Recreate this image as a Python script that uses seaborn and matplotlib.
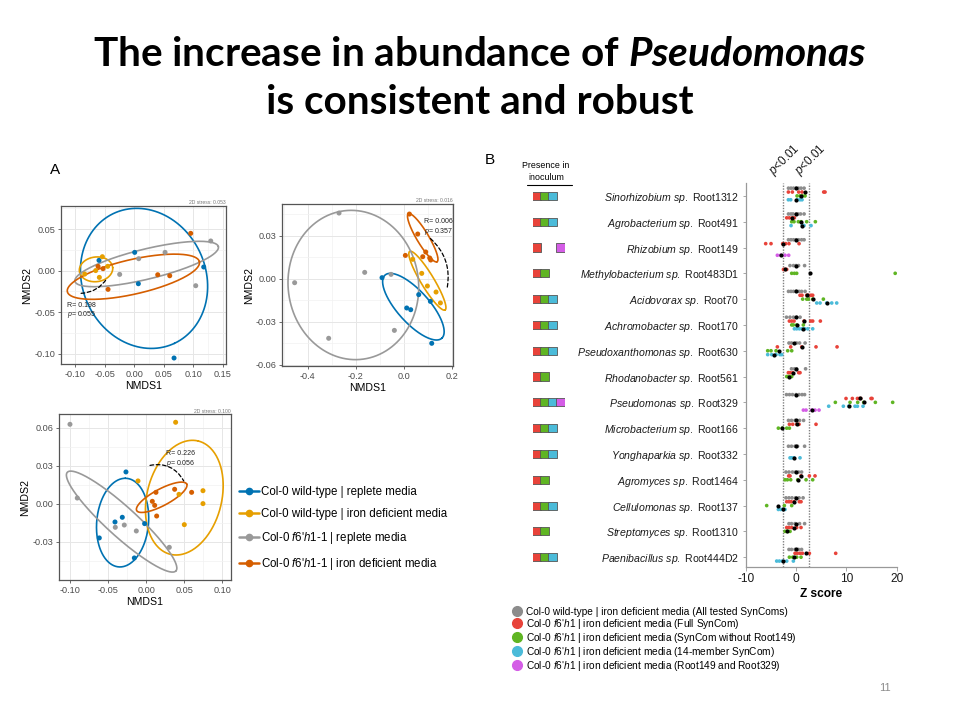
import numpy as np
import pandas as pd
import seaborn as sns
import matplotlib.pyplot as plt
from matplotlib.lines import Line2D
from matplotlib.patches import FancyArrowPatch
from matplotlib.ticker import AutoMinorLocator

sns.set_theme(style="white")
plt.rcParams["font.family"] = ["Liberation Sans", "DejaVu Sans"]
plt.rcParams["mathtext.fontset"] = "custom"
plt.rcParams["mathtext.rm"] = "Liberation Sans"
plt.rcParams["mathtext.it"] = "Liberation Sans:italic"
plt.rcParams["mathtext.bf"] = "Lato:bold:italic"
plt.rcParams["axes.unicode_minus"] = False
plt.rcParams["text.color"] = "black"
plt.rcParams["axes.labelcolor"] = "black"

# ---------------- panel A: NMDS ordinations ----------------
groups = ["wt_rep", "wt_fe", "f6_rep", "f6_fe"]
group_colors = ["#0072B2", "#E69F00", "#999999", "#D55E00"]
group_labels = [
    "Col-0 wild-type | replete media",
    "Col-0 wild-type | iron deficient media",
    "Col-0 $\\mathit{f6}$'$\\mathit{h1}$-$\\mathit{1}$ | replete media",
    "Col-0 $\\mathit{f6}$'$\\mathit{h1}$-$\\mathit{1}$ | iron deficient media",
]

# top-left ordination
tl_x = {"wt_rep": [-0.0594, 0.001, 0.0072, 0.1178, 0.0676],
        "wt_fe": [-0.0836, -0.065, -0.0537, -0.0447, -0.0588],
        "f6_rep": [-0.0244, 0.0078, 0.0524, 0.1043, 0.1297],
        "f6_fe": [-0.061, -0.0526, -0.0441, 0.040, 0.0603, 0.0958]}
tl_y = {"wt_rep": [0.0123, 0.0219, -0.0158, 0.0043, -0.1052],
        "wt_fe": [-0.0042, 0.0, 0.0167, 0.0051, -0.0082],
        "f6_rep": [-0.0046, 0.0143, 0.0219, -0.0182, 0.0356],
        "f6_fe": [0.0051, 0.0023, -0.0226, -0.0050, -0.0062, 0.0448]}
# ellipse: centre x, centre y, first axis (dx, dy), second axis (dx, dy)
tl_ell = {"wt_rep": (0.0168, -0.0094, 0.0513, -0.0782, 0.0946, 0.0314),
          "wt_fe": (-0.0644, 0.0015, 0.0282, 0.002, 0.0017, -0.0148),
          "f6_rep": (0.0213, 0.0079, 0.1213, 0.0209, 0.006, -0.0176),
          "f6_fe": (-0.0012, -0.0074, 0.1117, 0.0181, 0.0065, -0.0203)}
tl_arc = ((-0.0944, -0.0274), (-0.0436, -0.0066), 0.3)
tl_stat = ((-0.1141, -0.0374), "0.198", "0.055", "0.053")

# top-right ordination
tr_x = {"wt_rep": [-0.0903, 0.0625, 0.0125, 0.0292, 0.1111, 0.1167],
        "wt_fe": [0.0375, 0.075, 0.0986, 0.1347, 0.1528],
        "f6_rep": [-0.2694, -0.1625, -0.4542, -0.0528, -0.3125, -0.0389],
        "f6_fe": [0.0236, 0.0583, 0.0069, 0.0917, 0.0792, 0.1083, 0.1125]}
tr_y = {"wt_rep": [0.0007, -0.0111, -0.0204, -0.0216, -0.0158, -0.045],
        "wt_fe": [0.0135, 0.0037, -0.0051, -0.0093, -0.0169],
        "f6_rep": [0.0457, 0.0044, -0.0028, 0.003, -0.0415, -0.036],
        "f6_fe": [0.045, 0.0311, 0.0162, 0.0186, 0.0153, 0.0144, 0.013]}
tr_ell = {"wt_rep": (0.0403, -0.0195, 0.1181, -0.022, 0.0497, 0.0074),
          "wt_fe": (0.0986, -0.0014, 0.0736, -0.0204, 0.0236, 0.0023),
          "f6_rep": (-0.2097, -0.0044, 0.2708, -0.007, -0.0278, -0.0515),
          "f6_fe": (0.0792, 0.0285, 0.0597, -0.0167, 0.0214, 0.0021)}
tr_arc = ((0.1028, 0.0292), (0.1792, -0.0079), -0.3)
tr_stat = ((0.0847, 0.042), "0.006", "0.357", "0.016")

# bottom-left ordination
bl_x = {"wt_rep": [-0.0265, -0.0409, -0.0313, -0.0615, -0.002, -0.0155],
        "wt_fe": [-0.0107, 0.0387, 0.0431, 0.0501, 0.0746, 0.0746],
        "f6_rep": [-0.1, -0.0904, -0.0405, -0.0287, -0.0129, 0.0304],
        "f6_fe": [0.0129, 0.0081, 0.0112, 0.0138, 0.0374, 0.0597]}
bl_y = {"wt_rep": [0.0253, -0.0142, -0.0105, -0.0268, -0.0155, -0.0426],
        "wt_fe": [0.0182, 0.0645, 0.0076, -0.0163, 0.0105, 0.0003],
        "f6_rep": [0.0629, 0.0047, -0.0184, -0.0166, -0.0213, -0.0342],
        "f6_fe": [0.0092, 0.0021, -0.0011, -0.0095, 0.0116, 0.0092]}
bl_ell = {"wt_rep": (-0.0309, -0.0147, 0.0035, 0.035, 0.0341, 0.0),
          "wt_fe": (0.0501, 0.005, 0.0184, 0.0447, 0.0476, -0.0071),
          "f6_rep": (-0.0322, -0.0139, 0.0713, -0.0389, 0.0131, 0.0087),
          "f6_fe": (0.0204, 0.0053, 0.0328, 0.0105, 0.0052, -0.0058)}
bl_arc = ((0.0015, 0.030), (0.051, 0.0163), -0.4)
bl_stat = ((0.026, 0.0426), "0.226", "0.056", "0.100")

# ---------------- panel B: Z scores ----------------
genus = ["Sinorhizobium", "Agrobacterium", "Rhizobium", "Methylobacterium",
         "Acidovorax", "Achromobacter", "Pseudoxanthomonas", "Rhodanobacter",
         "Pseudomonas", "Microbacterium", "Yonghaparkia", "Agromyces",
         "Cellulomonas", "Streptomyces", "Paenibacillus"]
strain = ["Root1312", "Root491", "Root149", "Root483D1", "Root70", "Root170",
          "Root630", "Root561", "Root329", "Root166", "Root332", "Root1464",
          "Root137", "Root1310", "Root444D2"]
# presence in inoculum: 1 = full, 2 = without Root149, 3 = 14-member, 4 = Root149+Root329
presence = [[1, 2, 3], [1, 2, 3], [1, 4], [1, 2], [1, 2, 3], [1, 2, 3], [1, 2, 3],
            [1, 2], [1, 2, 3, 4], [1, 2, 3], [1, 2, 3], [1, 2], [1, 2, 3], [1, 2],
            [1, 2, 3]]

syn_names = ["wt_all", "f6_full", "f6_no149", "f6_14", "f6_149_329"]
syn_colors = ["#8c8c8c", "#e8433a", "#5fb523", "#4bbbd9", "#d45de6"]
syn_labels = [
    "Col-0 wild-type | iron deficient media (All tested SynComs)",
    "Col-0 $\\mathit{f6}$'$\\mathit{h1}$ | iron deficient media (Full SynCom)",
    "Col-0 $\\mathit{f6}$'$\\mathit{h1}$ | iron deficient media (SynCom without Root149)",
    "Col-0 $\\mathit{f6}$'$\\mathit{h1}$ | iron deficient media (14-member SynCom)",
    "Col-0 $\\mathit{f6}$'$\\mathit{h1}$ | iron deficient media (Root149 and Root329)",
]

z_gray = [[-1.5, -1.0, -0.5, 0.0, 0.5, 1.0, 1.6], [-1.5, -1.0, -0.6, 0.0, 0.4, 0.9, 1.6],
          [-1.5, -1.0, -0.5, 0.0, 0.5, 1.1, 1.6], [-1.2, -0.5, 0.0, 0.5, 1.7],
          [-1.5, -1.0, -0.5, 0.0, 0.6, 1.1, 1.8], [-1.9, -1.2, -0.5, 0.1, 0.8],
          [-1.4, -0.9, 0.1, 0.7, 1.8], [-0.9, -0.3, 0.1, 1.9],
          [-1.9, -1.3, -0.7, 0.0, 0.6, 1.2, 1.7], [-1.5, -0.9, -0.2, 0.7, 1.5],
          [-1.5, -0.9, -0.2, 0.3, 1.7], [-2.0, -1.4, -0.7, -0.1, 0.5, 1.1],
          [-2.0, -1.4, -0.8, -0.1, 0.6, 1.4], [-1.4, -0.9, -0.2, 0.7, 1.7],
          [-1.4, -0.9, -0.2, 0.5, 1.1]]
z_red = [[-1.52, -0.73, 0.53, 1.19, 5.5, 5.76], [-1.85, -1.32, -0.73, -0.33],
         [-6.03, -4.97, -2.65, -2.05, -1.4, 0.6], [-2.5, -2.19, -1.85],
         [0.79, 1.19, 2.12, 2.45, 2.98, 3.31], [-1.32, -0.86, -0.4, 1.59, 2.91, 3.31, 4.83],
         [-3.71, -1.06, 1.13, 3.97, 8.15], [-1.52, -1.19, -0.66, 0.53, 0.79],
         [9.93, 11.19, 12.19, 12.58, 12.85, 14.9, 15.1], [-1.32, -0.66, 0.13, 0.6, 3.97],
         [], [-1.46, -1.2, 0.99, 2.65, 3.77], [-1.85, -1.39, -0.99, -0.4, 0.66, 0.99],
         [-1.85, -1.39, -0.86, 0.13, 0.99], [-0.2, 0.26, 0.79, 1.26, 2.65, 7.88]]
z_green = [[0.2, 0.79, 1.26, 1.79], [-0.86, -0.4, 0.46, 0.99, 2.12, 3.84], [],
           [-0.86, -0.33, 0.13, 19.7], [1.32, 2.12, 2.45, 3.31, 5.43],
           [-0.86, -0.53, 0.13, 1.46], [-5.63, -4.97, -3.97, -1.66, -0.86],
           [-1.85, -1.52, -1.19, -0.86], [7.81, 10.73, 12.25, 13.44, 15.76, 19.2],
           [-3.51, -2.72, -1.85, -1.32], [], [-2.19, -1.72, -1.06, 0.33, 1.99, 3.31],
           [-5.83, -2.32, -0.86], [-2.19, -1.85, -1.66, -1.19], [-1.32, -0.66, 0.13, 0.99]]
z_blue = [[-1.52, -1.06, 0.26, 0.79, 1.19], [-0.99, 1.26, 1.59, 2.98], [], [],
          [4.11, 4.77, 6.09, 7.09, 8.08], [-0.33, 0.13, 0.66, 1.19, 1.72, 2.32, 3.31],
          [-5.63, -4.83, -3.97, -3.18, -2.85], [], [6.49, 9.4, 10.46, 11.72, 12.19, 13.31],
          [], [-1.19, -0.86, -0.4, 0.79], [], [-3.51, -3.05, -2.65, -2.19], [],
          [-3.84, -3.31, -2.72, -1.85, -0.53]]
z_mag = [[], [], [-3.71, -3.05, -2.19, -1.46], [], [], [], [], [],
         [1.46, 1.99, 3.11, 3.77, 4.57], [], [], [], [], [], []]

c_gray = [0, 0, 0, 0, 0, 0, -0.33, 0, 0, 0, 0, 0, 0, 0, 0]
c_red = [1.72, -0.86, -2.65, -2.19, 2.12, 1.59, 1.13, -0.66, 12.72, 0.26, None, 0.99, -0.4, -0.4, 1.92]
c_green = [0.99, 0.99, None, 2.85, 3.31, 0.13, -3.44, -1.32, 13.44, -2.72, None, 0.33, -3.64, -1.72, -0.33]
c_blue = [0.0, 1.19, None, None, 6.09, 1.46, -4.3, None, 10.53, None, -0.4, None, -2.65, None, -2.52]
c_mag = [None, None, -3.05, None, None, None, None, None, 3.11, None, None, None, None, None, None]
sub_offset = [-0.3, -0.15, 0.0, 0.15, 0.3]
p_cut = 2.58

fig = plt.figure(figsize=(9.6, 7.2), dpi=100)
W, H = 960, 720


def box(l, t, r, b):
    return [l / W, 1 - b / H, (r - l) / W, (b - t) / H]


def nmds(ax, xs, ys, ells, arc, stat, xlim, ylim, xticks, yticks, xfmt, yfmt):
    df = pd.DataFrame([(x, y, g) for g in groups for x, y in zip(xs[g], ys[g])],
                      columns=["NMDS1", "NMDS2", "group"])
    t = np.linspace(0, 2 * np.pi, 240)
    for g, c in zip(groups, group_colors):
        cx, cy, ux, uy, vx, vy = ells[g]
        ax.plot(cx + ux * np.cos(t) + vx * np.sin(t), cy + uy * np.cos(t) + vy * np.sin(t),
                color=c, lw=1.2, zorder=2)
    sns.scatterplot(data=df, x="NMDS1", y="NMDS2", hue="group",
                    palette=dict(zip(groups, group_colors)), s=13, linewidth=0,
                    legend=False, ax=ax, zorder=3)
    a, b, rad = arc
    ax.add_patch(FancyArrowPatch(a, b, connectionstyle=f"arc3,rad={rad}", arrowstyle="-",
                                 linestyle=(0, (3, 2)), lw=0.9, color="black", zorder=4))
    (tx, ty), r, p, stress = stat
    ax.text(tx, ty, f"R= {r}\n$\\mathit{{p}}$= {p}", fontsize=5, va="top", ha="left",
            color="#222222", linespacing=1.1)
    ax.text(1.0, 1.004, f"2D stress: {stress}", transform=ax.transAxes, ha="right",
            va="bottom", fontsize=3.6, color="#777777")
    ax.set_xlim(xlim)
    ax.set_ylim(ylim)
    ax.set_xticks(xticks)
    ax.set_yticks(yticks)
    ax.set_xticklabels([xfmt.format(v) for v in xticks])
    ax.set_yticklabels([yfmt.format(v) for v in yticks])
    ax.xaxis.set_minor_locator(AutoMinorLocator(2))
    ax.yaxis.set_minor_locator(AutoMinorLocator(2))
    ax.grid(which="major", color="#e6e6e6", lw=0.7)
    ax.grid(which="minor", color="#f2f2f2", lw=0.5)
    ax.set_axisbelow(True)
    for s in ax.spines.values():
        s.set_color("#555555")
        s.set_linewidth(0.9)
    ax.tick_params(which="major", length=2.5, width=0.6, color="#555555", labelsize=6.6,
                   labelcolor="#4d4d4d", pad=1.5, left=True, bottom=True)
    ax.tick_params(which="minor", length=0)
    ax.set_xlabel("NMDS1", fontsize=7.6, labelpad=1.5)
    ax.set_ylabel("NMDS2", fontsize=7.6, labelpad=1.5)


ax1 = fig.add_axes(box(60.7, 206, 225.7, 364))
nmds(ax1, tl_x, tl_y, tl_ell, tl_arc, tl_stat, (-0.1242, 0.155), (-0.1124, 0.0777),
     [-0.10, -0.05, 0.0, 0.05, 0.10, 0.15], [-0.10, -0.05, 0.0, 0.05], "{:.2f}", "{:.2f}")
ax2 = fig.add_axes(box(282.3, 204, 452.7, 366))
nmds(ax2, tr_x, tr_y, tr_ell, tr_arc, tr_stat, (-0.5056, 0.204), (-0.0608, 0.052),
     [-0.4, -0.2, 0.0, 0.2], [-0.06, -0.03, 0.0, 0.03], "{:.1f}", "{:.2f}")
ax3 = fig.add_axes(box(59, 414.3, 230.7, 580))
nmds(ax3, bl_x, bl_y, bl_ell, bl_arc, bl_stat, (-0.1144, 0.111), (-0.060, 0.0708),
     [-0.10, -0.05, 0.0, 0.05, 0.10], [-0.03, 0.0, 0.03, 0.06], "{:.2f}", "{:.2f}")

leg_a = [Line2D([], [], color=c, marker="o", markersize=4.5, lw=1.8) for c in group_colors]
fig.legend(leg_a, group_labels, loc="center left", bbox_to_anchor=(239 / W, 1 - 529 / H),
           frameon=False, fontsize=8.3, handlelength=1.7, handletextpad=0.25,
           labelspacing=0.85, borderpad=0, borderaxespad=0)

# ---------------- panel B ----------------
axb = fig.add_axes(box(745.7, 183, 896.7, 567))
recs, cent = [], []
for k, (vals, cs) in enumerate(zip([z_gray, z_red, z_green, z_blue, z_mag],
                                   [c_gray, c_red, c_green, c_blue, c_mag])):
    for r in range(len(genus)):
        for z in vals[r]:
            recs.append((z, r + sub_offset[k], syn_names[k]))
        if cs[r] is not None:
            cent.append((cs[r], r + sub_offset[k]))
df_b = pd.DataFrame(recs, columns=["Z score", "row", "SynCom"])
df_c = pd.DataFrame(cent, columns=["Z score", "row"])
axb.axvline(-p_cut, color="#808080", lw=1.0, ls=(0, (1, 1)), zorder=1)
axb.axvline(p_cut, color="#808080", lw=1.0, ls=(0, (1, 1)), zorder=1)
sns.scatterplot(data=df_b, x="Z score", y="row", hue="SynCom",
                palette=dict(zip(syn_names, syn_colors)), s=7, linewidth=0,
                legend=False, ax=axb, zorder=3)
sns.scatterplot(data=df_c, x="Z score", y="row", color="black", s=9, linewidth=0,
                legend=False, ax=axb, zorder=4)
axb.set_xlim(-10, 20)
axb.set_ylim(14.38, -0.5)
axb.set_xticks([-10, 0, 10, 20])
axb.set_yticks(range(len(genus)))
axb.set_yticklabels([f"$\\mathit{{{g}}}$ $\\mathit{{sp.}}$ {s}" for g, s in zip(genus, strain)])
axb.tick_params(axis="y", labelsize=7.6, length=2.5, width=0.6, color="#999999", pad=2.5,
                left=True, labelcolor="#1a1a1a")
axb.tick_params(axis="x", labelsize=8.6, length=3, width=0.6, color="#999999", pad=1.5,
                bottom=True, labelcolor="#1a1a1a")
axb.grid(False)
sns.despine(ax=axb)
for s in ["left", "bottom"]:
    axb.spines[s].set_color("#999999")
    axb.spines[s].set_linewidth(0.9)
axb.set_xlabel("Z score", fontsize=8.6, fontweight="bold", labelpad=2)
axb.set_ylabel("")
for xv in [-p_cut, p_cut]:
    axb.text(xv + 0.3, -0.65, "$\\mathit{p}$<0.01", rotation=45, ha="center", va="bottom",
             fontsize=8.4, color="#1a1a1a", clip_on=False)

axi = fig.add_axes(box(532.5, 183, 564.5, 567))
pres = pd.DataFrame([(c, r, syn_names[c]) for r in range(len(genus)) for c in presence[r]],
                    columns=["col", "row", "SynCom"])
sns.scatterplot(data=pres, x="col", y="row", hue="SynCom", marker="s", s=34,
                palette=dict(zip(syn_names, syn_colors)), edgecolor="#555555",
                linewidth=0.6, legend=False, ax=axi)
axi.set_xlim(0.5, 4.5)
axi.set_ylim(14.38, -0.5)
axi.axis("off")
fig.text(546 / W, 1 - 165 / H, "Presence in", ha="center", va="center", fontsize=6.4)
fig.text(546 / W, 1 - 178 / H, "inoculum", ha="center", va="center", fontsize=6.4)
fig.add_artist(Line2D([527 / W, 572 / W], [1 - 185 / H, 1 - 185 / H], color="black", lw=0.8))

leg_b = [Line2D([], [], color=c, marker="o", ls="", markersize=7) for c in syn_colors]
fig.legend(leg_b, syn_labels, loc="upper left", bbox_to_anchor=(512 / W, 1 - 607 / H),
           frameon=False, fontsize=7.3, handlelength=0.9, handletextpad=0.5,
           labelspacing=0.0, borderpad=0, borderaxespad=0)

# ---------------- slide text ----------------
fig.text(55 / W, 1 - 170 / H, "A", ha="center", va="center", fontsize=11)
fig.text(490 / W, 1 - 160 / H, "B", ha="center", va="center", fontsize=11)
fig.text(885 / W, 1 - 688 / H, "11", ha="center", va="center", fontsize=8, color="#8c8c8c")

t1 = fig.text(0.5, 1 - 55 / H, "The increase in abundance of $\\mathbf{Pseudomonas}$",
              ha="center", va="center", fontsize=26, fontweight="bold", family="Lato",
              color="black")
t2 = fig.text(0.5, 1 - 102 / H, "is consistent and robust",
              ha="center", va="center", fontsize=26, fontweight="bold", family="Lato",
              color="black")
fig.canvas.draw()
scale = 775 / t1.get_window_extent().width
t1.set_fontsize(26 * scale)
t2.set_fontsize(26 * scale)

fig.savefig("out.png", dpi=100)
